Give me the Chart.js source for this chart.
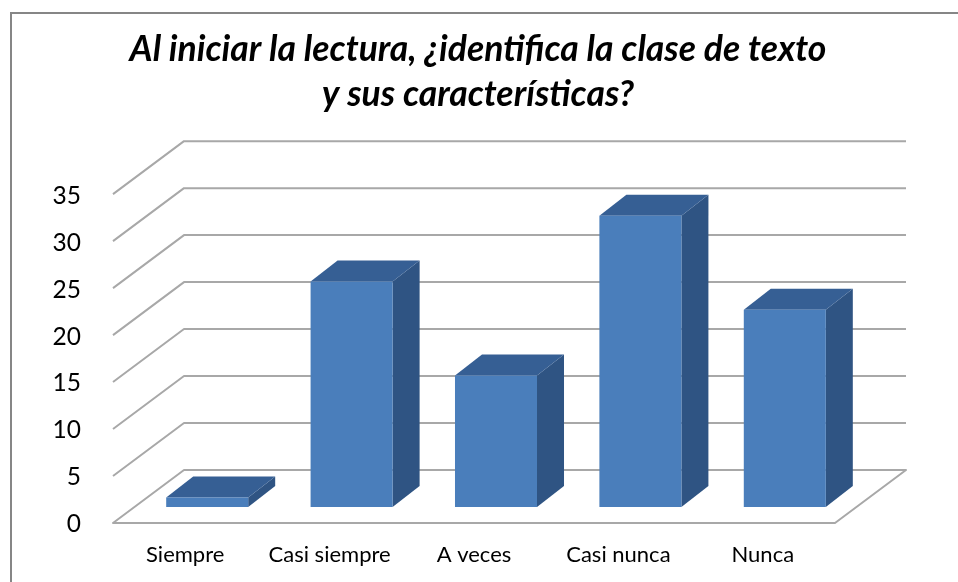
<!DOCTYPE html>
<html><head><meta charset="utf-8">
<script src="https://cdn.jsdelivr.net/npm/chart.js@4"></script>
<style>html,body{margin:0;padding:0;background:#fff}#w{width:958px;height:582px;position:relative}</style>
</head><body><div id="w"><canvas id="c"></canvas></div>
<script>
const categories = ["Siempre","Casi siempre","A veces","Casi nunca","Nunca"];
const values = [1,24,14,31,21];
const yTicks = [0,5,10,15,20,25,30,35];
const titleLines = ["Al iniciar la lectura, ¿identifica la clase de texto","y sus características?"];
const FRONT="#4a7ebb", SIDE="#2f5483", TOP="#365f94", GRID="#a8a8a8";
const WALL_DX=71, WALL_DY=-53, BAR_DX=22, BAR_DY=-16, DEPTH_DX=27, DEPTH_DY=-21;

const threeD = {
  id:"threeD",
  afterLayout(chart){
    if(chart.titleBlock){ chart.titleBlock.left=0; chart.titleBlock.right=chart.width-2; }
  },
  afterDatasetsUpdate(chart){
    chart.getDatasetMeta(0).data.forEach(b=>{ b.x+=BAR_DX; b.y+=BAR_DY; b.base+=BAR_DY; });
  },
  beforeDraw(chart){
    const c=chart.ctx;
    c.save(); c.strokeStyle="#868686"; c.lineWidth=2;
    c.strokeRect(11,13,1000,1000); c.restore();
  },
  beforeDatasetsDraw(chart){
    const c=chart.ctx, {x,y}=chart.scales;
    const L=x.left, R=x.right;
    c.save();
    c.strokeStyle=GRID; c.lineWidth=2; c.lineJoin="round";
    yTicks.forEach(v=>{
      const p=y.getPixelForValue(v);
      c.beginPath(); c.moveTo(L,p); c.lineTo(L+WALL_DX,p+WALL_DY); c.lineTo(R+WALL_DX,p+WALL_DY);
      if(v===0){ c.lineTo(R,p); c.closePath(); }
      c.stroke();
    });
    chart.getDatasetMeta(0).data.forEach(b=>{
      const l=b.x-b.width/2, r=b.x+b.width/2;
      c.fillStyle=SIDE; c.beginPath();
      c.moveTo(r,b.y); c.lineTo(r+DEPTH_DX,b.y+DEPTH_DY); c.lineTo(r+DEPTH_DX,b.base+DEPTH_DY); c.lineTo(r,b.base); c.closePath(); c.fill();
      c.fillStyle=TOP; c.beginPath();
      c.moveTo(l,b.y); c.lineTo(l+DEPTH_DX,b.y+DEPTH_DY); c.lineTo(r+DEPTH_DX,b.y+DEPTH_DY); c.lineTo(r,b.y); c.closePath(); c.fill();
    });
    c.restore();
  }
};

new Chart(document.getElementById("c"),{
  type:"bar",
  data:{labels:categories,datasets:[{data:values,backgroundColor:FRONT,borderWidth:0,barPercentage:0.568,categoryPercentage:1}]},
  plugins:[threeD],
  options:{
    responsive:true,maintainAspectRatio:false,animation:false,
    layout:{padding:{left:0,right:123,top:0,bottom:0}},
    plugins:{
      legend:{display:false},tooltip:{enabled:false},
      title:{display:true,text:titleLines,color:"#000",align:"center",fullSize:true,
        font:{family:"Lato",size:35.5,weight:"bold",style:"italic",lineHeight:1.27},
        padding:{top:27,bottom:77}}
    },
    scales:{
      x:{grid:{display:false},border:{display:false},
        ticks:{color:"#000",font:{family:"Lato",size:22},padding:11,maxRotation:0,autoSkip:false},
        afterFit(s){s.height=59;}},
      y:{min:0,max:35,grid:{display:false},border:{display:false},
        afterBuildTicks(s){s.ticks=yTicks.map(v=>({value:v}));},
        ticks:{color:"#000",font:{family:"Lato",size:24.5},padding:24,labelOffset:1.5},
        afterFit(s){s.width=113;}}
    }
  }
});
</script></body></html>
